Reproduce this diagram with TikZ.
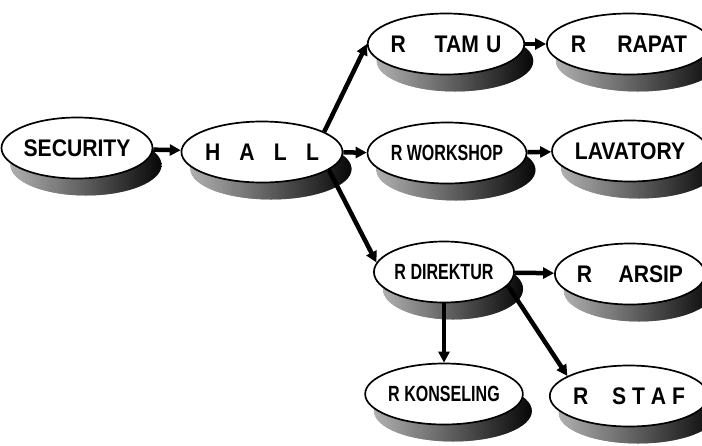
\documentclass[tikz,border=0pt]{standalone}
\usepackage{fontspec}
\setmainfont{Liberation Sans}
\newfontfamily\roomfont[FakeStretch=0.88]{Liberation Sans}
\newfontfamily\tightfont[FakeStretch=0.73]{Liberation Sans}
\usetikzlibrary{shapes.geometric,shadows,arrows.meta}
\tikzset{
  room/.style={ellipse, draw, line width=1.7pt, fill=white,
    minimum width=136pt, minimum height=61pt, inner sep=0pt,
    drop shadow={shadow xshift=9pt, shadow yshift=-17pt,
      left color=black!30, right color=black, opacity=0.95},
    font=\roomfont\bfseries\fontsize{24}{24}\selectfont},
  tightroom/.style={room, font=\tightfont\bfseries\fontsize{22}{22}\selectfont},
  link/.style={line width=4.5pt, -{Triangle[length=11pt,width=11pt]}}
}
\begin{document}
\begin{tikzpicture}[x=1pt,y=-1pt]
      \useasboundingbox (0,0) rectangle (702,445);
      \draw
        (77,148) node[room] (security){SECURITY}
        (262,152) node[room] (hall){H\hspace{.8em}A\hspace{.8em}L\hspace{.8em}L}
        (446,44) node[room] (tamu){R\hspace{1.2em}TAM\hspace{.3em}U}
        (629,44) node[room] (rapat){R\hspace{1.3em}RAPAT}
        (447,153) node[tightroom] (workshop){R WORKSHOP}
        (630,151) node[room] (lavatory){LAVATORY}
        (444,272) node[tightroom] (direktur){R DIREKTUR}
        (630,274) node[room] (arsip){R\hspace{1.1em}ARSIP}
        (444,394) node[tightroom] (konseling){R KONSELING}
        (629,396) node[room] (staf){R\hspace{1em}S T A F};
      \begin{scope}[link]
        \draw (security) to (hall);
        \draw (hall.18) to (tamu.west);
        \draw (hall) to (workshop);
        \draw (hall.-15) to (direktur.172);
        \draw (tamu) to (rapat);
        \draw (workshop) to (lavatory);
        \draw (direktur) to (arsip);
        \draw (direktur) to (konseling);
        \draw (direktur.-12) to (staf.162);
      \end{scope}
    \end{tikzpicture}
\end{document}
